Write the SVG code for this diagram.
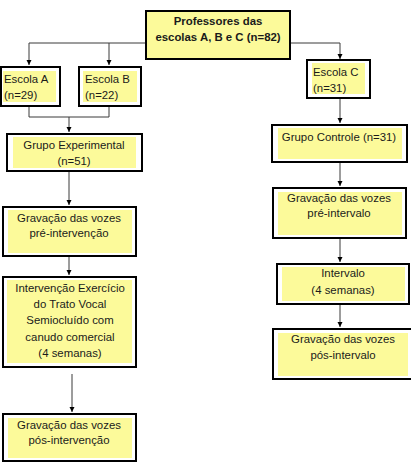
<svg xmlns="http://www.w3.org/2000/svg" width="411" height="462" viewBox="0 0 411 462">
<style>
.box{fill:#fff;stroke:#000;stroke-width:2}
.top{fill:#FCFA9A;stroke:#000;stroke-width:2}
.in{fill:#FCFA9A;stroke:none}
text{font-family:"Liberation Sans",Arial,sans-serif;font-size:11.4px;fill:#1a1a1a}
.c{text-anchor:middle}
.b{font-weight:bold}
.ln{fill:none;stroke:#3a3a3a;stroke-width:1}
</style>
<defs>
<marker id="ah" markerWidth="6" markerHeight="6" refX="5" refY="3" orient="auto" markerUnits="userSpaceOnUse">
<path d="M0,0.5 L5,3 L0,5.5 Z" fill="#000"/>
</marker>
</defs>
<rect width="411" height="462" fill="#fff"/>
<g id="connectors">
<path class="ln" d="M145,43 H29 V65" marker-end="url(#ah)"/>
<path class="ln" d="M109,43 V65" marker-end="url(#ah)"/>
<path class="ln" d="M291,43 H340 V59" marker-end="url(#ah)"/>
<path class="ln" d="M29,107 V117 H109 V107"/>
<path class="ln" d="M69,117 V132" marker-end="url(#ah)"/>
<path class="ln" d="M69,172 V205" marker-end="url(#ah)"/>
<path class="ln" d="M69,257 V275" marker-end="url(#ah)"/>
<path class="ln" d="M72,374 V412" marker-end="url(#ah)"/>
<path class="ln" d="M340,99 V123" marker-end="url(#ah)"/>
<path class="ln" d="M340,163 V186" marker-end="url(#ah)"/>
<path class="ln" d="M340,239 V262" marker-end="url(#ah)"/>
<path class="ln" d="M340,305 V327" marker-end="url(#ah)"/>
</g>
<g id="professores">
<rect class="top" x="146" y="11" width="144" height="48"/>
<text class="c b" x="218" y="25">Professores das</text>
<text class="c b" x="218" y="41">escolas A, B e C (n=82)</text>
</g>
<g id="escolaA">
<rect class="box" x="1" y="67" width="59" height="39"/>
<rect class="in" x="3" y="71" width="53" height="31"/>
<text x="4" y="83">Escola A</text>
<text x="4" y="99">(n=29)</text>
</g>
<g id="escolaB">
<rect class="box" x="79" y="67" width="62" height="39"/>
<rect class="in" x="83" y="71" width="54" height="31"/>
<text x="85" y="83">Escola B</text>
<text x="85" y="99">(n=22)</text>
</g>
<g id="escolaC">
<rect class="box" x="307" y="60" width="63" height="38"/>
<rect class="in" x="312" y="63" width="53" height="31"/>
<text x="313" y="76">Escola C</text>
<text x="313" y="92">(n=31)</text>
</g>
<g id="grupoExperimental">
<rect class="box" x="7" y="134" width="135" height="37"/>
<rect class="in" x="13" y="137" width="123" height="31"/>
<text class="c" x="74" y="149">Grupo Experimental</text>
<text class="c" x="74" y="165">(n=51)</text>
</g>
<g id="gravacaoPreIntervencao">
<rect class="box" x="3" y="207" width="133" height="49"/>
<rect class="in" x="8" y="210" width="124" height="43"/>
<text class="c" x="69" y="222">Gravação das vozes</text>
<text class="c" x="69" y="237">pré-intervenção</text>
</g>
<g id="intervencao">
<rect class="box" x="3" y="277" width="133" height="90"/>
<rect class="in" x="7" y="280" width="125" height="83"/>
<text class="c" x="70" y="292">Intervenção Exercício</text>
<text class="c" x="70" y="308">do Trato Vocal</text>
<text class="c" x="70" y="324">Semiocluído com</text>
<text class="c" x="70" y="341">canudo comercial</text>
<text class="c" x="70" y="357">(4 semanas)</text>
</g>
<g id="gravacaoPosIntervencao">
<rect class="box" x="3" y="414" width="133" height="47"/>
<rect class="in" x="8" y="418" width="124" height="40"/>
<text class="c" x="69" y="429">Gravação das vozes</text>
<text class="c" x="69" y="444">pós-intervenção</text>
</g>
<g id="grupoControle">
<rect class="box" x="272" y="125" width="135" height="37"/>
<rect class="in" x="278" y="128" width="124" height="31"/>
<text class="c" x="339" y="141">Grupo Controle (n=31)</text>
</g>
<g id="gravacaoPreIntervalo">
<rect class="box" x="273" y="188" width="133" height="50"/>
<rect class="in" x="278" y="192" width="124" height="43"/>
<text class="c" x="339" y="202">Gravação das vozes</text>
<text class="c" x="339" y="217">pré-intervalo</text>
</g>
<g id="intervalo">
<rect class="box" x="277" y="264" width="132" height="40"/>
<rect class="in" x="282" y="267" width="123" height="34"/>
<text class="c" x="343" y="277">Intervalo</text>
<text class="c" x="343" y="294">(4 semanas)</text>
</g>
<g id="gravacaoPosIntervalo">
<rect class="box" x="273" y="329" width="140" height="50"/>
<rect class="in" x="278" y="333" width="130" height="43"/>
<text class="c" x="343" y="343">Gravação das vozes</text>
<text class="c" x="343" y="359">pós-intervalo</text>
</g>
</svg>
